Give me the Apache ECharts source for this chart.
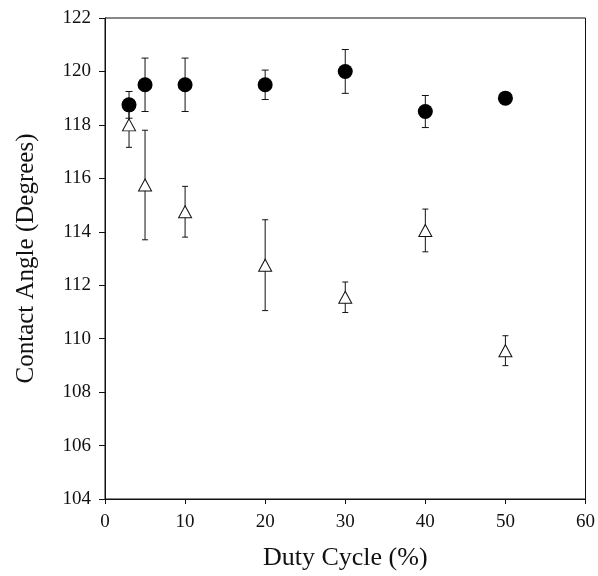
<!DOCTYPE html>
<html>
<head>
<meta charset="utf-8">
<script src="https://cdn.jsdelivr.net/npm/echarts@6/dist/echarts.min.js"></script>
<style>
  html, body { margin: 0; padding: 0; background: #fff; }
  #chart { width: 598px; height: 576px; }
</style>
</head>
<body>
<div id="chart"></div>
<script>
// Data
var dutyCycle = [3, 5, 10, 20, 30, 40, 50];
var circleAngle = [118.75, 119.5, 119.5, 119.5, 120.0, 118.5, 119.0];
var circleErr   = [0.5, 1.0, 1.0, 0.55, 0.82, 0.6, 0];
var triAngle    = [118.0, 115.75, 114.75, 112.75, 111.55, 114.05, 109.55];
var triErr      = [0.84, 2.05, 0.95, 1.7, 0.57, 0.8, 0.56];
var xTicks = [0, 10, 20, 30, 40, 50, 60];
var yTicks = [104, 106, 108, 110, 112, 114, 116, 118, 120, 122];

var FONT = '"Liberation Serif", "Times New Roman", serif';

function pts(ys) { return dutyCycle.map(function (x, i) { return [x, ys[i]]; }); }
function errData(ys, es) { return dutyCycle.map(function (x, i) { return [x, ys[i], es[i]]; }); }

function errRender(capHalf) {
  return function (params, api) {
    var x = api.value(0), y = api.value(1), e = api.value(2);
    if (!e) return null;
    var top = api.coord([x, y + e]);
    var bot = api.coord([x, y - e]);
    var st = { stroke: '#111', lineWidth: 1 };
    return {
      type: 'group',
      children: [
        { type: 'line', shape: { x1: top[0], y1: top[1], x2: bot[0], y2: bot[1] }, style: st },
        { type: 'line', shape: { x1: top[0] - capHalf, y1: top[1], x2: top[0] + capHalf, y2: top[1] }, style: st },
        { type: 'line', shape: { x1: bot[0] - capHalf, y1: bot[1], x2: bot[0] + capHalf, y2: bot[1] }, style: st }
      ]
    };
  };
}

var chart = echarts.init(document.getElementById('chart'), null, { renderer: 'canvas' });
chart.setOption({
  animation: false,
  backgroundColor: '#fff',
  grid: { left: 105, top: 18, right: 11, bottom: 76, show: true, borderColor: '#111', borderWidth: 1, backgroundColor: 'transparent' },
  xAxis: {
    type: 'value', min: xTicks[0], max: xTicks[xTicks.length - 1], interval: 10,
    name: 'Duty Cycle (%)', nameLocation: 'middle', nameGap: 46,
    nameTextStyle: { fontFamily: FONT, fontSize: 26, color: '#111' },
    axisLine: { lineStyle: { color: '#111', width: 1 } },
    axisTick: { show: true, inside: false, length: 5, lineStyle: { color: '#111' } },
    axisLabel: { fontFamily: FONT, fontSize: 19, color: '#111', margin: 14 },
    splitLine: { show: false }
  },
  yAxis: {
    type: 'value', min: yTicks[0], max: yTicks[yTicks.length - 1], interval: 2,
    name: 'Contact Angle (Degrees)', nameLocation: 'middle', nameGap: 66,
    nameTextStyle: { fontFamily: FONT, fontSize: 25, color: '#111' },
    axisLine: { show: true, lineStyle: { color: '#111', width: 1 } },
    axisTick: { show: true, inside: false, length: 6, lineStyle: { color: '#111' } },
    axisLabel: { fontFamily: FONT, fontSize: 19, color: '#111', margin: 14 },
    splitLine: { show: false }
  },
  series: [
    { type: 'custom', name: 'circleErr', data: errData(circleAngle, circleErr), renderItem: errRender(3.5), z: 1, silent: true },
    { type: 'custom', name: 'triErr', data: errData(triAngle, triErr), renderItem: errRender(3), z: 1, silent: true },
    {
      type: 'scatter', name: 'circle', data: pts(circleAngle), symbol: 'circle', symbolSize: 15,
      itemStyle: { color: '#000', opacity: 1 }, z: 3
    },
    {
      type: 'scatter', name: 'triangle', data: pts(triAngle), symbol: 'triangle', symbolSize: [13, 12],
      itemStyle: { color: '#fff', borderColor: '#111', borderWidth: 1, opacity: 1 }, z: 3
    }
  ]
});
</script>
</body>
</html>
